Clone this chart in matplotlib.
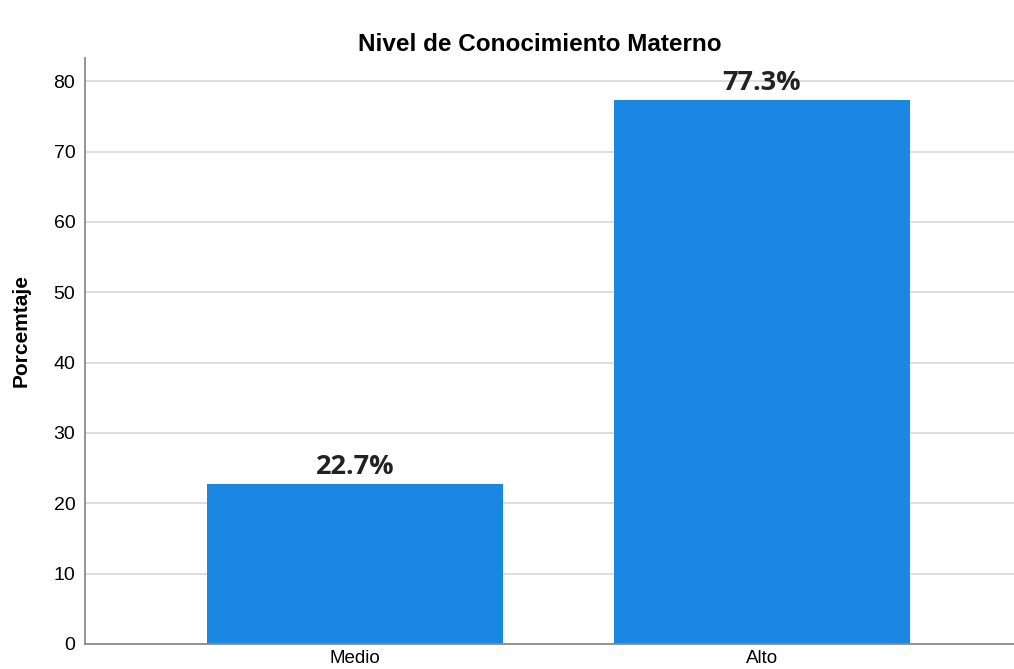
import numpy as np
import matplotlib.pyplot as plt

# --- data ---
categories = ["Medio", "Alto"]
percentages = [22.7, 77.3]
y_ticks = [0, 10, 20, 30, 40, 50, 60, 70, 80]

bar_color = "#1a88e2"

plt.rcParams['font.family'] = ['Liberation Sans', 'DejaVu Sans']

fig = plt.figure(figsize=(10.14, 6.69), dpi=100)
ax = fig.add_axes([0.0838, 0.0374, 0.9162, 0.876])

x = np.arange(len(categories))
bars = ax.bar(x, percentages, width=0.727, color=bar_color, zorder=2)

# value labels above each bar
for rect, val in zip(bars, percentages):
    ax.annotate(f"{val:.1f}%", (rect.get_x() + rect.get_width() / 2, rect.get_height()),
                xytext=(0, 3), textcoords="offset points", ha="center", va="bottom",
                fontsize=19.5, fontweight="bold", family="Open Sans", color="#222222")

ax.set_xlim(-0.663, 1.62)
ax.set_ylim(0, 83.3)
ax.set_xticks(x)
ax.set_xticklabels(categories, fontsize=13.5)
ax.set_yticks(y_ticks)
ax.tick_params(axis="y", labelsize=14, length=0, pad=7)
ax.tick_params(axis="x", length=0, pad=4)

ax.grid(axis="y", color="#d8d8d8", linewidth=1.2, zorder=0)
ax.set_axisbelow(True)
for side in ["top", "right"]:
    ax.spines[side].set_visible(False)
ax.spines["left"].set_color("#8a8a8a")
ax.spines["bottom"].set_color("#8a8a8a")
ax.spines["left"].set_linewidth(1.3)
ax.spines["bottom"].set_linewidth(1.3)

ax.set_ylabel("Porcemtaje", fontsize=15, fontweight="bold")
ax.yaxis.set_label_coords(-0.058, 0.535)
ax.set_title("Nivel de Conocimiento Materno", fontsize=17.5, fontweight="bold", pad=5, x=0.49)

fig.savefig("out.png", dpi=100)
